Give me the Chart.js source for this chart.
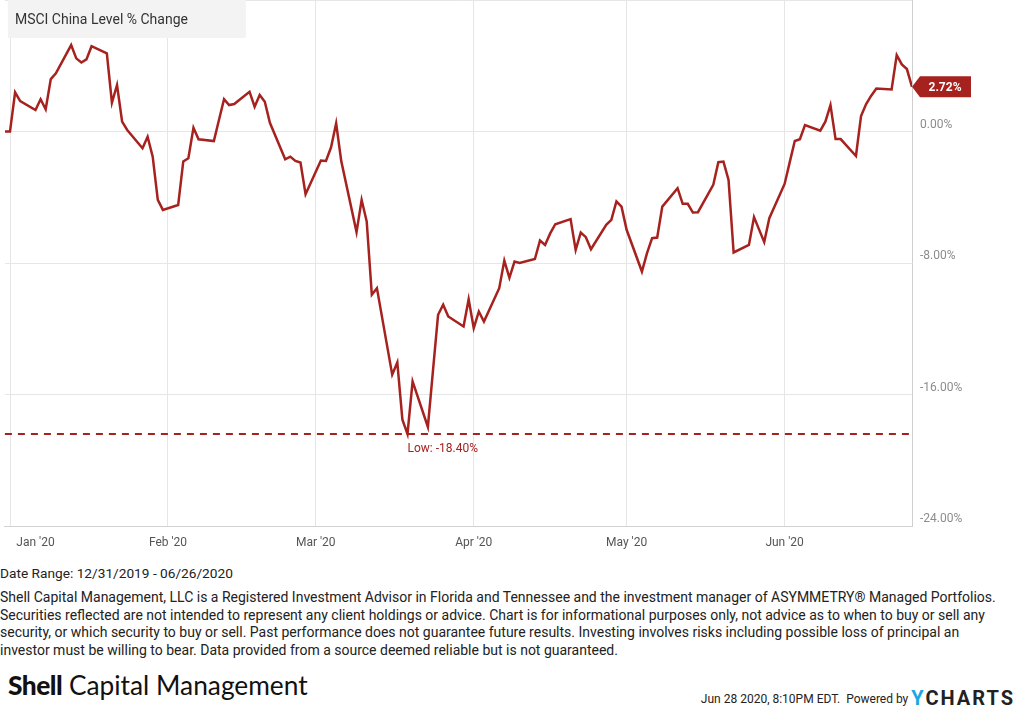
<!DOCTYPE html>
<html>
<head>
<meta charset="utf-8">
<script src="https://cdn.jsdelivr.net/npm/chart.js@4.4.1/dist/chart.umd.min.js"></script>
<style>
body{margin:0;background:#fff;font-family:Roboto,sans-serif;}
#wrap{position:relative;width:1023px;height:708px;overflow:hidden;}
#chart{position:absolute;left:0;top:0;}
.range{position:absolute;left:0;top:565px;font-size:13.7px;color:#222;}
.disc{position:absolute;left:0;top:589px;width:1002px;font-size:14px;line-height:17.5px;color:#222;}
.logo{position:absolute;left:8px;top:669px;font-family:Lato,sans-serif;font-size:26.3px;color:#111;}
.logo b{font-weight:900;letter-spacing:-0.5px;}
.stamp{position:absolute;right:8px;top:686px;font-size:12px;color:#222;}
.yc{font-size:20px;font-weight:bold;letter-spacing:2px;color:#222;vertical-align:-2px;}
.yc span{color:#1ea6e4;}
</style>
</head>
<body>
<div id="wrap">
<canvas id="chart" width="1023" height="556"></canvas>
<div class="range">Date Range: 12/31/2019 - 06/26/2020</div>
<div class="disc">Shell Capital Management, LLC is a Registered Investment Advisor in Florida and Tennessee and the investment manager of ASYMMETRY® Managed Portfolios. Securities reflected are not intended to represent any client holdings or advice. Chart is for informational purposes only, not advice as to when to buy or sell any security, or which security to buy or sell. Past performance does not guarantee future results. Investing involves risks including possible loss of principal an investor must be willing to bear. Data provided from a source deemed reliable but is not guaranteed.</div>
<div class="logo"><b>Shell</b> Capital Management</div>
<div class="stamp">Jun 28 2020, 8:10PM EDT.&nbsp; Powered by <span class="yc"><span>Y</span>CHARTS</span></div>
</div>
<script>
//Data
var title = "MSCI China Level % Change";
var dates = [
"2019-12-31","2020-01-01","2020-01-02","2020-01-03","2020-01-06","2020-01-07","2020-01-08","2020-01-09","2020-01-10",
"2020-01-13","2020-01-14","2020-01-15","2020-01-16","2020-01-17","2020-01-20","2020-01-21","2020-01-22","2020-01-23","2020-01-24",
"2020-01-27","2020-01-28","2020-01-29","2020-01-30","2020-01-31","2020-02-03","2020-02-04","2020-02-05","2020-02-06","2020-02-07",
"2020-02-10","2020-02-11","2020-02-12","2020-02-13","2020-02-14","2020-02-17","2020-02-18","2020-02-19","2020-02-20","2020-02-21",
"2020-02-24","2020-02-25","2020-02-26","2020-02-27","2020-02-28","2020-03-02","2020-03-03","2020-03-04","2020-03-05","2020-03-06",
"2020-03-09","2020-03-10","2020-03-11","2020-03-12","2020-03-13","2020-03-16","2020-03-17","2020-03-18","2020-03-19","2020-03-20",
"2020-03-23","2020-03-24","2020-03-25","2020-03-26","2020-03-27","2020-03-30","2020-03-31","2020-04-01","2020-04-02","2020-04-03",
"2020-04-06","2020-04-07","2020-04-08","2020-04-09","2020-04-10","2020-04-13","2020-04-14","2020-04-15","2020-04-16","2020-04-17",
"2020-04-20","2020-04-21","2020-04-22","2020-04-23","2020-04-24","2020-04-27","2020-04-28","2020-04-29","2020-04-30","2020-05-01",
"2020-05-04","2020-05-05","2020-05-06","2020-05-07","2020-05-08","2020-05-11","2020-05-12","2020-05-13","2020-05-14","2020-05-15",
"2020-05-18","2020-05-19","2020-05-20","2020-05-21","2020-05-22","2020-05-25","2020-05-26","2020-05-27","2020-05-28","2020-05-29",
"2020-06-01","2020-06-02","2020-06-03","2020-06-04","2020-06-05","2020-06-08","2020-06-09","2020-06-10","2020-06-11","2020-06-12",
"2020-06-15","2020-06-16","2020-06-17","2020-06-18","2020-06-19","2020-06-22","2020-06-23","2020-06-24","2020-06-25","2020-06-26"];
var values = [
0,0,2.38,1.85,1.31,1.96,1.35,3.19,3.54,
5.26,4.45,4.20,4.39,5.19,4.75,1.75,2.83,0.60,0.09,
-1.02,-0.32,-1.53,-4.16,-4.77,-4.47,-1.82,-1.63,0.23,-0.47,
-0.58,0.70,1.97,1.61,1.67,2.42,1.51,2.22,1.81,0.53,
-1.69,-1.53,-1.79,-1.89,-3.82,-1.77,-1.79,-0.96,0.50,-1.80,
-6.12,-4.16,-5.48,-9.93,-9.53,-14.79,-14.05,-17.53,-18.40,-15.20,
-17.97,-14.55,-11.15,-10.54,-11.25,-11.86,-10.20,-11.96,-10.95,-11.56,
-9.53,-7.85,-8.90,-7.91,-8.00,-7.76,-6.63,-6.90,-6.20,-5.64,
-5.33,-7.20,-6.15,-6.43,-7.16,-5.68,-5.38,-4.26,-4.57,-5.98,
-8.52,-7.40,-6.49,-6.45,-4.57,-3.45,-4.40,-4.40,-4.93,-4.91,
-3.25,-1.87,-1.83,-2.95,-7.36,-6.90,-5.21,-5.97,-6.73,-5.27,
-3.19,-1.88,-0.58,-0.47,0.39,0.05,0.60,1.61,-0.46,-0.46,
-1.49,0.94,1.67,2.18,2.62,2.56,4.65,4.08,3.80,2.72];
var monthStarts = ["2020-01-01","2020-02-01","2020-03-01","2020-04-01","2020-05-01","2020-06-01"];
var monthLabels = ["Jan '20","Feb '20","Mar '20","Apr '20","May '20","Jun '20"];
var yTicks = [-24,-16,-8,0,8];
var lineColor = "#a6221f";

//Helpers
function dayNum(d){return (Date.parse(d+"T00:00:00Z")-Date.parse(dates[0]+"T00:00:00Z"))/86400000;}
var points = dates.map(function(d,i){return {x:dayNum(d),y:values[i]};});
var gridDays = monthStarts.map(dayNum);
var janLabelDay = gridDays[0]+5; //Jan label sits right of its gridline
var lowVal = Math.min.apply(null,values);
var lowIdx = values.indexOf(lowVal);
var lastVal = values[values.length-1];

//Overlay plugin
var overlay = {
	id:'overlay',
	beforeDatasetsDraw:function(chart){
		var ctx = chart.ctx, a = chart.chartArea;
		ctx.save();
		ctx.fillStyle = "#f3f3f3";
		ctx.fillRect(a.left+3,a.top,238,38);
		ctx.fillStyle = "#333";
		ctx.font = "14px Roboto";
		ctx.textBaseline = "middle";
		ctx.fillText(title,a.left+10,a.top+20);
		ctx.restore();
	},
	afterDatasetsDraw:function(chart){
		var ctx = chart.ctx, a = chart.chartArea;
		var xs = chart.scales.x, ys = chart.scales.y;
		ctx.save();
		//Low line
		var ly = ys.getPixelForValue(lowVal);
		ctx.strokeStyle = lineColor;
		ctx.lineWidth = 2;
		ctx.setLineDash([7,6]);
		ctx.beginPath();
		ctx.moveTo(a.left,ly);
		ctx.lineTo(a.right,ly);
		ctx.stroke();
		ctx.setLineDash([]);
		ctx.fillStyle = lineColor;
		ctx.font = "12px Roboto";
		ctx.textBaseline = "middle";
		ctx.fillText("Low: "+lowVal.toFixed(2)+"%",xs.getPixelForValue(points[lowIdx].x),ly+15);
		//Last value badge
		var vy = ys.getPixelForValue(lastVal);
		var bx = a.right;
		ctx.fillStyle = lineColor;
		ctx.beginPath();
		ctx.moveTo(bx,vy);
		ctx.lineTo(bx+8,vy-10.5);
		ctx.lineTo(bx+59,vy-10.5);
		ctx.lineTo(bx+59,vy+10.5);
		ctx.lineTo(bx+8,vy+10.5);
		ctx.closePath();
		ctx.fill();
		ctx.fillStyle = "#fff";
		ctx.font = "bold 12px Roboto";
		ctx.textAlign = "center";
		ctx.fillText(lastVal.toFixed(2)+"%",bx+33,vy+1);
		ctx.restore();
	}
};

//Chart
var myChart = new Chart(document.getElementById("chart"),{
	type:'line',
	data:{
		datasets:[{
			label:title,
			data:points,
			borderColor:lineColor,
			borderWidth:2.5,
			pointRadius:0,
			tension:0,
			fill:false
		}]
	},
	options:{
		responsive:false,
		animation:false,
		devicePixelRatio:1,
		layout:{padding:{left:2,top:0,right:0,bottom:0}},
		plugins:{legend:{display:false},tooltip:{enabled:false}},
		scales:{
			x:{
				type:'linear',
				min:0,
				max:points[points.length-1].x,
				afterBuildTicks:function(scale){
					var t = [];
					gridDays.forEach(function(d){t.push({value:d});});
					t.splice(1,0,{value:janLabelDay});
					scale.ticks = t;
				},
				afterFit:function(scale){scale.height = 30;},
				ticks:{
					autoSkip:false,
					maxRotation:0,
					padding:10,
					color:"#555",
					font:{family:"Roboto",size:12},
					callback:function(v){
						if(v===janLabelDay){return monthLabels[0];}
						var i = gridDays.indexOf(v);
						return i>0 ? monthLabels[i] : '';
					}
				},
				grid:{
					drawTicks:false,
					color:function(c){return c.tick && c.tick.value===janLabelDay ? 'rgba(0,0,0,0)' : '#e6e6e6';}
				},
				border:{color:'#d2d2d2',width:1}
			},
			y:{
				position:'right',
				min:yTicks[0],
				max:yTicks[yTicks.length-1],
				afterBuildTicks:function(scale){scale.ticks = yTicks.map(function(v){return {value:v};});},
				afterFit:function(scale){scale.width = 111;scale.paddingTop = 0;scale.paddingBottom = 0;},
				ticks:{
					padding:8,
					labelOffset:-7,
					color:"#8c8c8c",
					font:{family:"Roboto",size:12},
					callback:function(v){return v===yTicks[yTicks.length-1] ? '' : v.toFixed(2)+'%';}
				},
				grid:{drawTicks:false,color:'#e6e6e6'},
				border:{color:'#cfcfcf',width:1}
			}
		}
	},
	plugins:[overlay]
});
</script>
</body>
</html>
